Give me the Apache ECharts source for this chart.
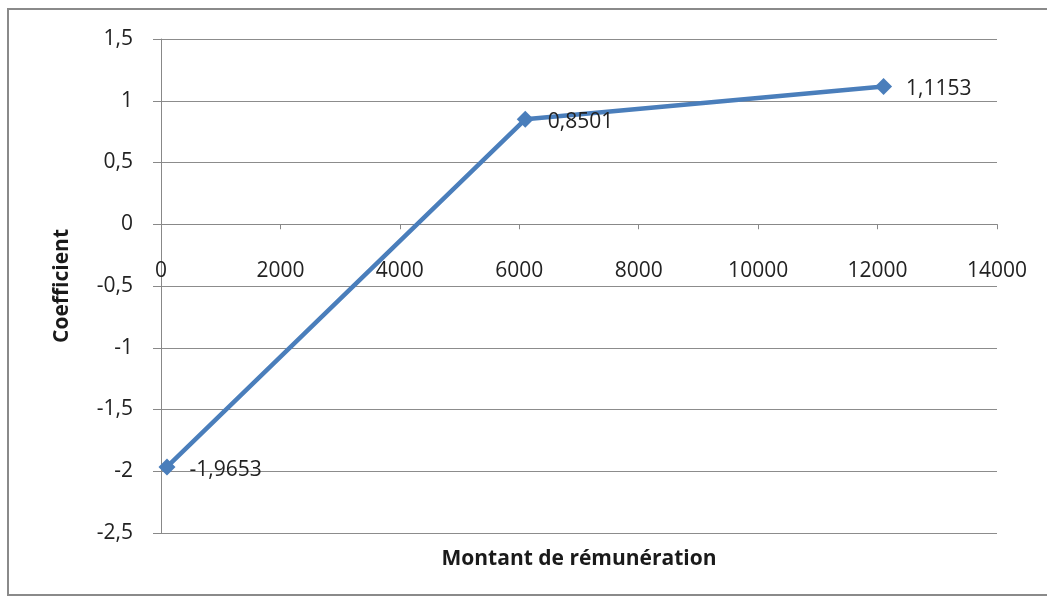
<!DOCTYPE html>
<html>
<head>
<meta charset="utf-8">
<script src="https://cdn.jsdelivr.net/npm/echarts@6/dist/echarts.min.js"></script>
<style>
html,body{margin:0;padding:0;background:#fff;}
#c{width:1047px;height:598px;}
</style>
</head>
<body>
<div id="c"></div>
<script>
const xValues = [100, 6100, 12100];
const coefficients = [-1.9653, 0.8501, 1.1153];
const xTicks = [0, 2000, 4000, 6000, 8000, 10000, 12000, 14000];
const yTicks = [-2.5, -2, -1.5, -1, -0.5, 0, 0.5, 1, 1.5];
const xTitle = 'Montant de rémunération';
const yTitle = 'Coefficient';

const FONT = 'Open Sans';
const fr = v => String(v).replace('.', ',');

const GRID_TOP = 39, GRID_BOTTOM = 65, H = 598;
const yMin = yTicks[0], yMax = yTicks[yTicks.length - 1];
const plotH = H - GRID_TOP - GRID_BOTTOM;
// distance from grid bottom to the y=0 line, so the x axis crosses at zero
const zeroOffset = plotH * (0 - yMin) / (yMax - yMin);

const chart = echarts.init(document.getElementById('c'), null, {renderer: 'canvas'});
chart.setOption({
  animation: false,
  backgroundColor: '#fff',
  textStyle: {fontFamily: FONT},
  grid: {left: 161, right: 50, top: GRID_TOP, bottom: GRID_BOTTOM, containLabel: false, outerBoundsMode: 'none'},
  graphic: [{
    type: 'rect',
    shape: {x: 8, y: 9, width: 1100, height: 586},
    style: {fill: 'none', stroke: '#8a8a8a', lineWidth: 2},
    silent: true, z: -1
  }],
  xAxis: {
    type: 'value',
    position: 'bottom',
    offset: -zeroOffset,
    min: xTicks[0], max: xTicks[xTicks.length - 1], interval: 2000,
    name: xTitle, nameLocation: 'middle', nameGap: 324,
    nameTextStyle: {fontFamily: FONT, fontSize: 21, fontWeight: 'bold', color: '#1a1a1a'},
    axisLine: {onZero: false, lineStyle: {color: '#888', width: 1}},
    axisTick: {show: true, inside: false, length: 5, lineStyle: {color: '#888'}},
    axisLabel: {margin: 36, fontSize: 21, color: '#222', fontFamily: FONT, formatter: v => fr(v)},
    splitLine: {show: false}
  },
  yAxis: {
    type: 'value',
    min: yMin, max: yMax, interval: 0.5,
    name: yTitle, nameLocation: 'middle', nameGap: 88, nameRotate: 90,
    nameTextStyle: {fontFamily: FONT, fontSize: 21, fontWeight: 'bold', color: '#1a1a1a'},
    axisLine: {show: true, onZero: false, lineStyle: {color: '#888', width: 1}},
    axisTick: {show: true, length: 8, lineStyle: {color: '#888'}},
    axisLabel: {margin: 28, fontSize: 21, color: '#222', fontFamily: FONT, formatter: v => fr(v)},
    splitLine: {show: true, lineStyle: {color: '#8c8c8c', width: 1}}
  },
  series: [{
    type: 'line',
    data: xValues.map((x, i) => [x, coefficients[i]]),
    symbol: 'diamond',
    symbolSize: 17,
    lineStyle: {color: '#4a7ebb', width: 4.5},
    itemStyle: {color: '#4a7ebb'},
    label: {
      show: true, position: 'right', distance: 14, offset: [0, 3],
      fontSize: 21, color: '#222', fontFamily: FONT,
      formatter: p => fr(p.value[1])
    }
  }]
});
</script>
</body>
</html>
